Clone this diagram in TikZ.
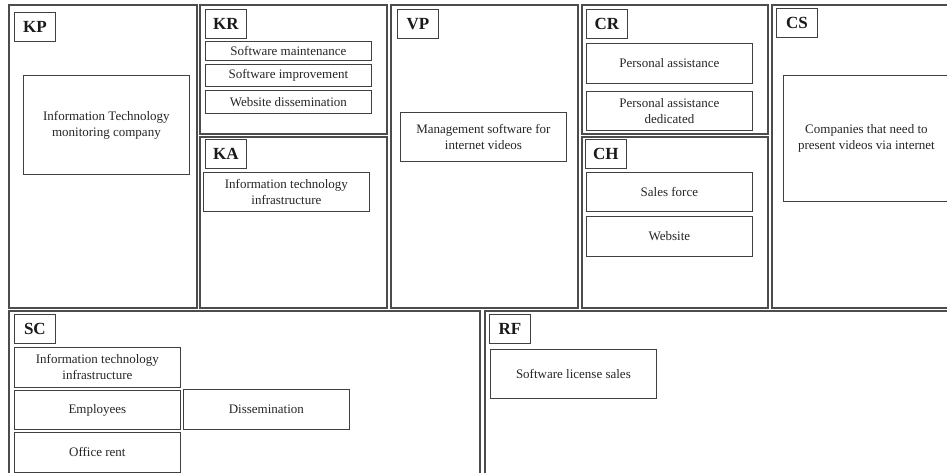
\documentclass[tikz,border=0pt]{standalone}
\usepackage{fontspec}
\setmainfont{Liberation Serif}
\usepackage{tikz}
\usetikzlibrary{shapes,calc}
\tikzstyle{panel} = [draw=black!70, line width=1.2pt, rectangle, anchor=north west, inner sep=0pt, outer sep=0pt]
\tikzstyle{tag} = [draw=black!75, line width=0.8pt, rectangle, anchor=north west, inner sep=0pt, minimum width=41pt, minimum height=29pt, font=\fontsize{17}{17}\selectfont\bfseries, text=black!90]
\tikzstyle{item} = [draw=black!75, line width=0.8pt, rectangle, anchor=north west, align=center, inner sep=0pt, minimum width=166pt, font=\fontsize{13}{16}\selectfont, text=black!85]

\begin{document}
\begin{tikzpicture}[x=1pt, y=-1pt]
        \clip (0,0) rectangle (947,472);
        \fill[white] (0,0) rectangle (947,472);
        % the nine blocks
        \node[panel, minimum width=188pt, minimum height=303pt] (kp) at (9,5) {};
        \node[panel, minimum width=187pt, minimum height=129pt] (kr) at (200,5) {};
        \node[panel, minimum width=187pt, minimum height=171pt] (ka) at (200,137) {};
        \node[panel, minimum width=187pt, minimum height=303pt] (vp) at (391,5) {};
        \node[panel, minimum width=186pt, minimum height=129pt] (cr) at (582,5) {};
        \node[panel, minimum width=186pt, minimum height=171pt] (ch) at (582,137) {};
        \node[panel, minimum width=190pt, minimum height=303pt] (cs) at (772,5) {};
        \node[panel, minimum width=471pt, minimum height=175pt] (sc) at (9,311) {};
        \node[panel, minimum width=475pt, minimum height=175pt] (rf) at (485,311) {};
        % headers
        \node[tag] (kptag) at (14,12) {KP};
        \node[tag] (krtag) at (205,9) {KR};
        \node[tag] (katag) at (205,139) {KA};
        \node[tag] (vptag) at (397,9) {VP};
        \node[tag] (crtag) at (586,9) {CR};
        \node[tag] (chtag) at (585,139) {CH};
        \node[tag] (cstag) at (776,8) {CS};
        \node[tag] (sctag) at (14,314) {SC};
        \node[tag] (rftag) at (489,314) {RF};
        % contents
        \node[item, minimum height=99pt] (partner) at (23,75) {Information Technology\\monitoring company};
        \node[item, minimum height=19pt] (maint) at (205,41) {Software maintenance};
        \node[item, minimum height=22pt] (improve) at (205,64) {Software improvement};
        \node[item, minimum height=23pt] (webdiss) at (205,90) {Website dissemination};
        \node[item, minimum height=39pt] (infra) at (203,172) {Information technology\\infrastructure};
        \node[item, minimum height=49pt] (mgmt) at (400,112) {Management software for\\internet videos};
        \node[item, minimum height=40pt] (assist) at (586,43) {Personal assistance};
        \node[item, minimum height=39pt] (dedic) at (586,91) {Personal assistance\\dedicated};
        \node[item, minimum height=39pt] (sales) at (586,172) {Sales force};
        \node[item, minimum height=40pt] (website) at (586,216) {Website};
        \node[item, minimum height=126pt] (companies) at (783,75) {Companies that need to\\present videos via internet};
        \node[item, minimum height=40pt] (costinfra) at (14,347) {Information technology\\infrastructure};
        \node[item, minimum height=39pt] (staff) at (14,390) {Employees};
        \node[item, minimum height=40pt] (rent) at (14,432) {Office rent};
        \node[item, minimum height=40pt] (diss) at (183,389) {Dissemination};
        \node[item, minimum height=49pt] (license) at (490,349) {Software license sales};
\end{tikzpicture}
\end{document}
